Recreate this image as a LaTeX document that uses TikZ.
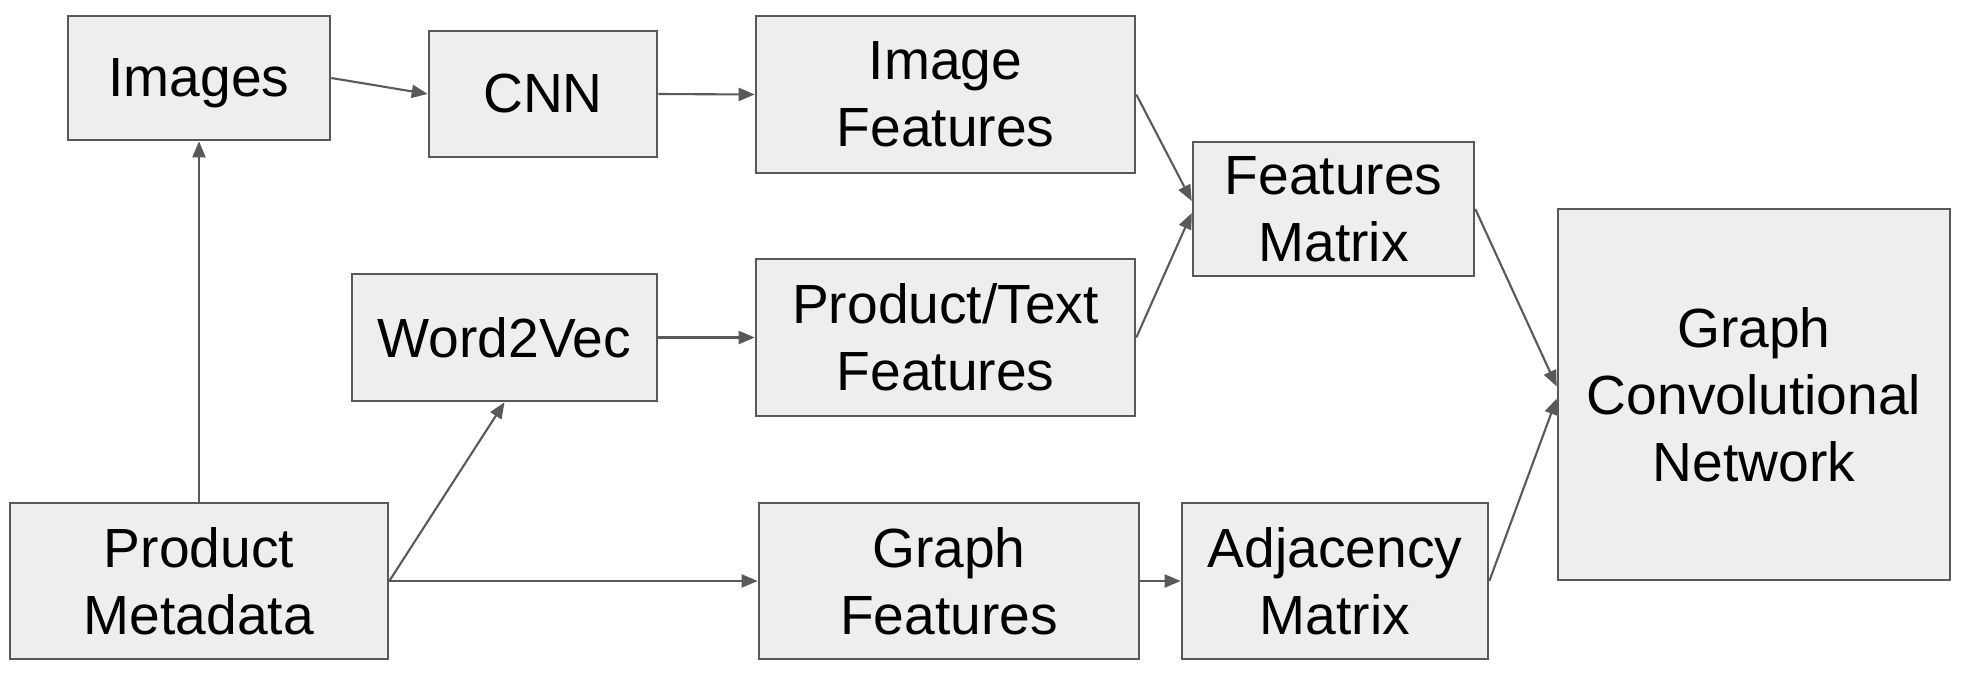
\documentclass[tikz,border=0pt]{standalone}
\usepackage{fontspec}
\setmainfont{Liberation Sans}
\usepackage{tikz}
\usetikzlibrary{arrows.meta,positioning}
\definecolor{boxfill}{HTML}{EEEEEE}
\definecolor{boxline}{HTML}{595959}
\tikzset{
  block/.style={rectangle, draw=boxline, line width=0.75pt, fill=boxfill,
    align=center, inner sep=0pt, text=black},
  link/.style={-{Triangle[length=1.6mm, width=1.3mm]}, line width=0.6pt, draw=boxline},
}

\begin{document}
\begin{tikzpicture}[font=\fontsize{15.7}{19}\selectfont]
  \useasboundingbox (0,0) rectangle (19.65,-6.75);
  % top row
  \node[block, minimum width=2.62cm, minimum height=1.24cm, text depth=0pt] (images) at (1.99,-0.78) {Images};
  \node[block, minimum width=2.28cm, minimum height=1.26cm] (cnn) at (5.43,-0.94) {CNN};
  \node[block, minimum width=3.79cm, minimum height=1.57cm] (imgfeat) at (9.455,-0.945) {Image\\Features};
  \node[block, minimum width=2.81cm, minimum height=1.34cm] (featmat) at (13.335,-2.09) {Features\\Matrix};
  % middle row
  \node[block, minimum width=3.05cm, minimum height=1.27cm] (wordvec) at (5.045,-3.375) {Word2Vec};
  \node[block, minimum width=3.79cm, minimum height=1.57cm] (textfeat) at (9.455,-3.375) {Product/Text\\Features};
  \node[block, minimum width=3.92cm, minimum height=3.71cm] (gcn) at (17.54,-3.945) {Graph\\Convolutional\\Network};
  % bottom row
  \node[block, minimum width=3.78cm, minimum height=1.56cm] (meta) at (1.99,-5.81) {Product\\Metadata};
  \node[block, minimum width=3.80cm, minimum height=1.56cm] (graphfeat) at (9.49,-5.81) {Graph\\Features};
  \node[block, minimum width=3.06cm, minimum height=1.56cm] (adjmat) at (13.35,-5.81) {Adjacency\\Matrix};

  \draw[link] (meta.north) -- (images.south);
  \draw[link] (images.east) -- (cnn.west);
  \draw[link] (cnn.east) -- (imgfeat.west);
  \draw[link] (meta.east) -- (wordvec.south);
  \draw[link] (wordvec.east) -- (textfeat.west);
  \draw[link] (meta.east) -- (graphfeat.west);
  \draw[link] (graphfeat.east) -- (adjmat.west);
  \draw[link] (imgfeat.east) -- ([yshift=0.08cm]featmat.west);
  \draw[link] (textfeat.east) -- ([yshift=-0.04cm]featmat.west);
  \draw[link] (featmat.east) -- ([yshift=0.08cm]gcn.west);
  \draw[link] (adjmat.east) -- ([yshift=-0.04cm]gcn.west);
\end{tikzpicture}
\end{document}
